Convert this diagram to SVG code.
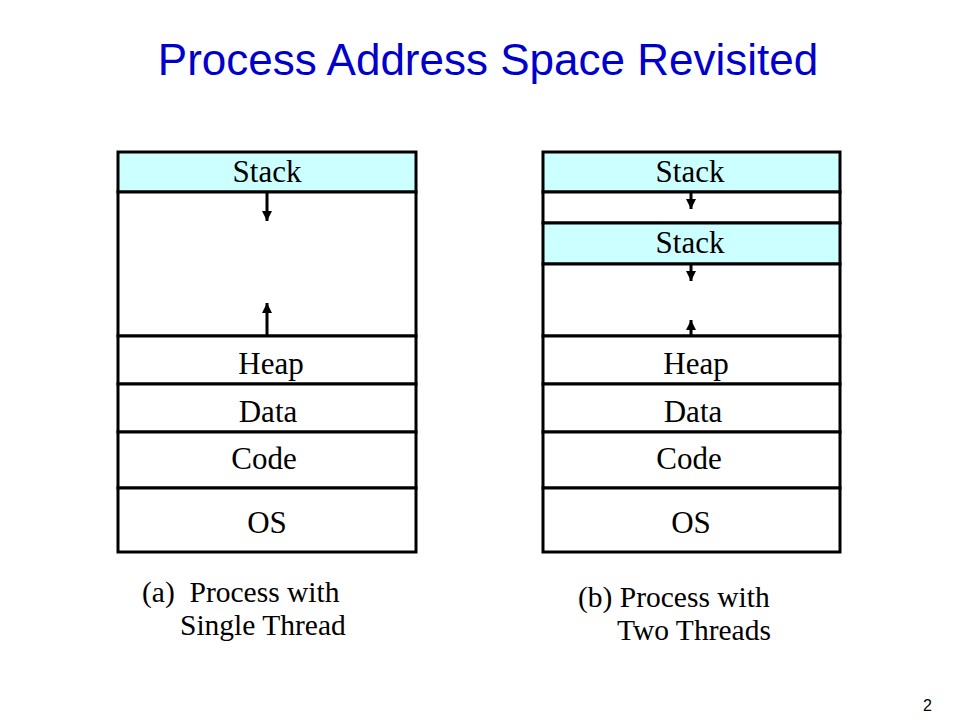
<svg xmlns="http://www.w3.org/2000/svg" width="960" height="720" viewBox="0 0 960 720">
<style>
.box{fill:#fff;stroke:#000;stroke-width:3}
.stack{fill:#ccffff;stroke:#000;stroke-width:3}
.lbl{font-family:"Liberation Serif","Times New Roman",serif;font-size:31px;fill:#000;text-anchor:middle}
.cap{font-family:"Liberation Serif","Times New Roman",serif;font-size:29.5px;fill:#000}
.title{font-family:"Liberation Sans",Arial,sans-serif;font-size:44px;fill:#0000cc;text-anchor:middle}
.arr{stroke:#000;stroke-width:3;fill:none}
</style>
<defs>
<marker id="ah" viewBox="0 0 10 10" refX="10" refY="5" markerWidth="3.4" markerHeight="3.4" orient="auto" markerUnits="strokeWidth">
<path d="M0,0 L10,5 L0,10 z" fill="#000"/>
</marker>
</defs>
<rect width="960" height="720" fill="#fff"/>
<text class="title" x="488" y="75">Process Address Space Revisited</text>

<g id="a-space">
<g id="a-stack"><rect class="stack" x="118" y="152" width="298" height="40"/><text class="lbl" x="267" y="182">Stack</text></g>
<g id="a-free"><rect class="box" x="118" y="192" width="298" height="144"/></g>
<g id="a-heap"><rect class="box" x="118" y="336" width="298" height="48"/><text class="lbl" x="271" y="374">Heap</text></g>
<g id="a-data"><rect class="box" x="118" y="384" width="298" height="48"/><text class="lbl" x="268" y="422">Data</text></g>
<g id="a-code"><rect class="box" x="118" y="432" width="298" height="56"/><text class="lbl" x="264" y="469">Code</text></g>
<g id="a-os"><rect class="box" x="118" y="488" width="298" height="64"/><text class="lbl" x="267" y="533">OS</text></g>
</g>

<g id="b-space">
<g id="b-stack1"><rect class="stack" x="543" y="152" width="297" height="40"/><text class="lbl" x="690" y="182">Stack</text></g>
<g id="b-free1"><rect class="box" x="543" y="192" width="297" height="31"/></g>
<g id="b-stack2"><rect class="stack" x="543" y="223" width="297" height="41"/><text class="lbl" x="690" y="253">Stack</text></g>
<g id="b-free2"><rect class="box" x="543" y="264" width="297" height="72"/></g>
<g id="b-heap"><rect class="box" x="543" y="336" width="297" height="48"/><text class="lbl" x="696" y="374">Heap</text></g>
<g id="b-data"><rect class="box" x="543" y="384" width="297" height="48"/><text class="lbl" x="693" y="422">Data</text></g>
<g id="b-code"><rect class="box" x="543" y="432" width="297" height="56"/><text class="lbl" x="689" y="469">Code</text></g>
<g id="b-os"><rect class="box" x="543" y="488" width="297" height="64"/><text class="lbl" x="691" y="533">OS</text></g>
</g>

<g id="connectors">
<line class="arr" x1="267" y1="193" x2="267" y2="221" marker-end="url(#ah)"/>
<line class="arr" x1="267" y1="335" x2="267" y2="303" marker-end="url(#ah)"/>
<line class="arr" x1="691" y1="193" x2="691" y2="209" marker-end="url(#ah)"/>
<line class="arr" x1="691" y1="265" x2="691" y2="281" marker-end="url(#ah)"/>
<line class="arr" x1="691" y1="335" x2="691" y2="320" marker-end="url(#ah)"/>
</g>

<g id="captions">
<text class="cap" x="142" y="602" xml:space="preserve">(a)  Process with</text>
<text class="cap" x="180" y="635">Single Thread</text>
<text class="cap" x="578" y="607">(b) Process with</text>
<text class="cap" x="617" y="640">Two Threads</text>
</g>
<text x="923" y="711" font-family="Liberation Sans, Arial, sans-serif" font-size="16" fill="#000">2</text>
</svg>
